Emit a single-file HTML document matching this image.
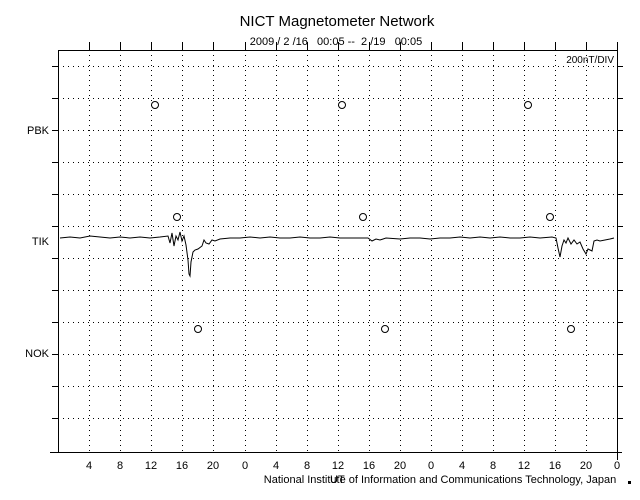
<!DOCTYPE html>
<html><head><meta charset="utf-8"><style>body{margin:0;background:#fff}svg{display:block}</style></head><body>
<svg width="640" height="500" xmlns="http://www.w3.org/2000/svg" font-family="Liberation Sans, sans-serif">
<rect width="640" height="500" fill="#fff"/>
<text x="337" y="26" font-size="15" text-anchor="middle">NICT Magnetometer Network</text>
<text x="336" y="45" font-size="11" text-anchor="middle" xml:space="preserve">2009 / 2 /16   00:05 --  2 /19   00:05</text>
<text x="614" y="63" font-size="10" text-anchor="end">200nT/DIV</text>
<g stroke="#000" stroke-width="1" stroke-dasharray="1,4" fill="none">
<path d="M89.5 50V452M120.5 50V452M151.5 50V452M182.5 50V452M213.5 50V452M245.5 50V452M276.5 50V452M307.5 50V452M338.5 50V452M369.5 50V452M400.5 50V452M431.5 50V452M462.5 50V452M493.5 50V452M524.5 50V452M555.5 50V452M586.5 50V452"/>
<path d="M58 66.5H617M58 98.5H617M58 130.5H617M58 162.5H617M58 194.5H617M58 226.5H617M58 258.5H617M58 290.5H617M58 322.5H617M58 354.5H617M58 386.5H617M58 418.5H617"/>
</g>
<g stroke="#000" stroke-width="1" fill="none">
<path d="M58.5 50V452M617.5 42V460M58 50.5H617M50 452.5H622"/>
<path d="M89.5 42V50M120.5 42V50M151.5 42V50M182.5 42V50M213.5 42V50M245.5 42V50M276.5 42V50M307.5 42V50M338.5 42V50M369.5 42V50M400.5 42V50M431.5 42V50M462.5 42V50M493.5 42V50M524.5 42V50M555.5 42V50M586.5 42V50"/>
<path d="M52 66.5H58M52 98.5H58M52 130.5H58M52 162.5H58M52 194.5H58M52 226.5H58M52 258.5H58M52 290.5H58M52 322.5H58M52 354.5H58M52 386.5H58M52 418.5H58"/>
<path d="M617 66.5H623M617 98.5H623M617 130.5H623M617 162.5H623M617 194.5H623M617 226.5H623M617 258.5H623M617 290.5H623M617 322.5H623M617 354.5H623M617 386.5H623M617 418.5H623"/>
<circle cx="155" cy="105" r="3.5"/><circle cx="342" cy="105" r="3.5"/><circle cx="528" cy="105" r="3.5"/>
<circle cx="177" cy="217" r="3.5"/><circle cx="363" cy="217" r="3.5"/><circle cx="550" cy="217" r="3.5"/>
<circle cx="198" cy="329" r="3.5"/><circle cx="385" cy="329" r="3.5"/><circle cx="571" cy="329" r="3.5"/>
<polyline stroke-width="1" points="60,238 70,237 80,238 90,236 100,237 110,238 120,237 130,238 140,237 150,238 160,237 168,236 170,243 172,233 174,246 176,236 178,240 180,232 182,241 184,236 186,245 188,260 189,274 190,276 191,262 193,252 195,250 198,249 202,246 204,240 206,243 209,244 212,240 215,241 220,239 230,238 240,238 250,237 260,238 270,237 280,238 290,238 300,237 310,238 320,238 330,237 340,238 350,238 360,238 368,238 372,241 376,239 380,240 386,238 400,239 410,238 420,238 430,239 440,238 450,238 460,237 470,238 480,237 490,238 500,237 510,238 520,238 530,237 540,238 552,237 556,238 558,248 560,257 562,246 564,240 566,243 568,238 571,244 574,240 577,244 580,242 583,249 586,254 588,249 592,251 594,241 597,240 600,241 605,240 610,239 614,238"/>
</g>
<g font-size="11" text-anchor="end">
<text x="49" y="134">PBK</text><text x="49" y="245">TIK</text><text x="49" y="357">NOK</text>
</g>
<g font-size="11" text-anchor="middle">
<text x="89" y="469">4</text><text x="120" y="469">8</text><text x="151" y="469">12</text><text x="182" y="469">16</text><text x="213" y="469">20</text><text x="245" y="469">0</text>
<text x="276" y="469">4</text><text x="307" y="469">8</text><text x="338" y="469">12</text><text x="369" y="469">16</text><text x="400" y="469">20</text><text x="431" y="469">0</text>
<text x="462" y="469">4</text><text x="493" y="469">8</text><text x="524" y="469">12</text><text x="555" y="469">16</text><text x="586" y="469">20</text><text x="617" y="469">0</text>
</g>
<text x="440" y="483" font-size="11" text-anchor="middle">National Institute of Information and Communications Technology, Japan</text>
<text x="330" y="483" font-size="11">UT</text>
<rect x="628" y="481" width="3" height="3" fill="#000"/>
</svg>
</body></html>
